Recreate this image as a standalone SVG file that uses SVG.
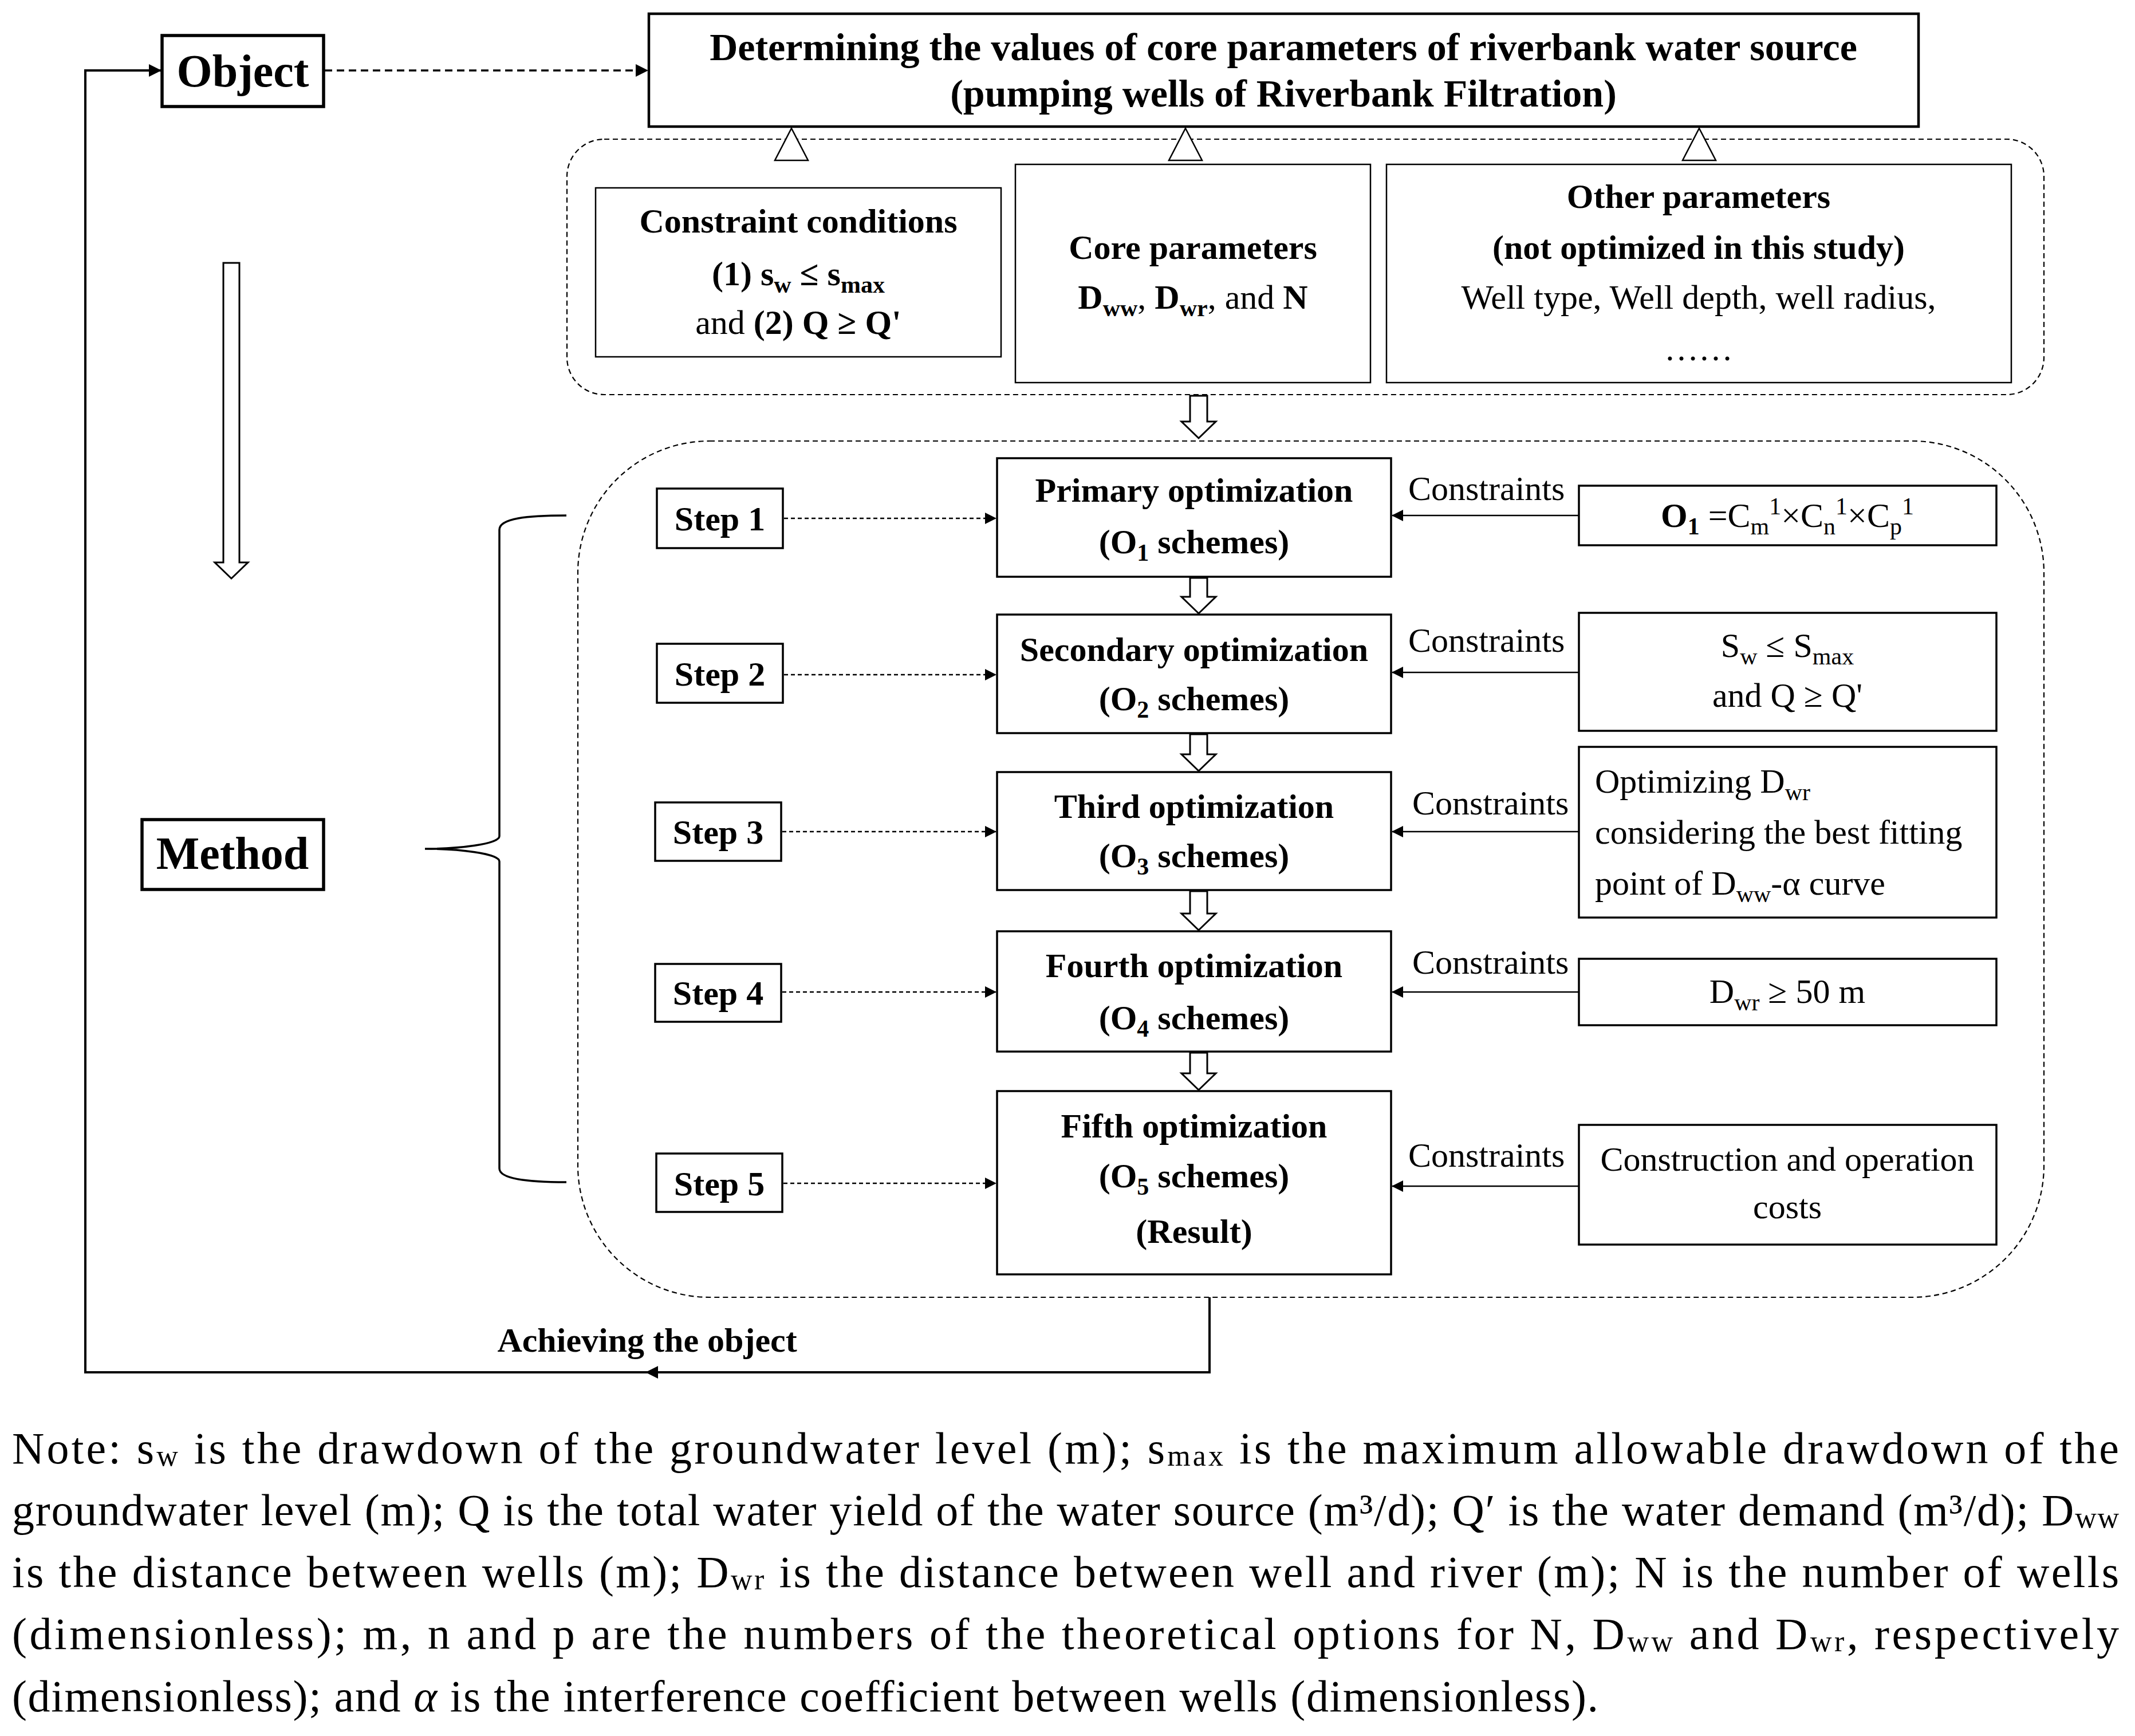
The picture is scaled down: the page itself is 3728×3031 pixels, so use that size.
<svg xmlns="http://www.w3.org/2000/svg" width="3728" height="3031" viewBox="0 0 3728 3031">
<style>
text{font-family:"Liberation Serif","Times New Roman",serif;fill:#000}
.b{font-weight:bold}
.t68{font-size:68px;font-weight:bold}
.t80{font-size:80px;font-weight:bold}
.t60{font-size:60px;font-weight:bold}
.r60{font-size:60px}
.sub{font-size:42px}
.note{font-size:78px}
.ns{font-size:52px}
.box{fill:#fff;stroke:#000;stroke-width:3.5}
.thin{fill:#fff;stroke:#000;stroke-width:2.5}
.dbox{fill:none;stroke:#000;stroke-width:2.2;stroke-dasharray:9 6}
.ln{fill:none;stroke:#000;stroke-width:2.5}
.dl{fill:none;stroke:#000;stroke-width:2.5;stroke-dasharray:7 5}
.hol{fill:#fff;stroke:#000;stroke-width:3}
</style>
<defs>
<marker id="ah" markerUnits="userSpaceOnUse" markerWidth="22" markerHeight="22" viewBox="0 0 22 22" refX="21" refY="11" orient="auto"><path d="M0,0 L22,11 L0,22 z" fill="#000"/></marker>
<marker id="as" markerUnits="userSpaceOnUse" markerWidth="20" markerHeight="20" viewBox="0 0 20 20" refX="19" refY="10" orient="auto"><path d="M0,0 L20,10 L0,20 z" fill="#000"/></marker>
</defs>
<rect width="3728" height="3031" fill="#fff"/>

<!-- containers -->
<rect id="params-container" class="dbox" x="990" y="243" width="2579" height="446" rx="65" ry="65"/>
<rect id="steps-container" class="dbox" x="1009" y="770" width="2560" height="1495" rx="230" ry="230"/>

<g id="connectors">
<!-- loop back -->
<path class="ln" style="stroke-width:4" d="M2112,2265 V2396 H149 V123 H281" marker-end="url(#ah)"/>
<path d="M1127,2396 L1149,2385 L1149,2407 z" fill="#000"/>
<!-- object to main -->
<path class="ln" style="stroke-width:3.5;stroke-dasharray:13 8" d="M567,123 H1131" marker-end="url(#ah)"/>
<!-- open triangles -->
<polygon class="thin" points="1382,224 1411,280 1353,280"/>
<polygon class="thin" points="2070,224 2099,280 2041,280"/>
<polygon class="thin" points="2967,224 2996,280 2938,280"/>
<!-- hollow arrows -->
<polygon class="hol" points="2078,691 2108,691 2108,736 2123,736 2093,765 2063,736 2078,736"/>
<polygon class="hol" points="2078,1009 2108,1009 2108,1042 2123,1042 2093,1071 2063,1042 2078,1042"/>
<polygon class="hol" points="2078,1282 2108,1282 2108,1317 2123,1317 2093,1346 2063,1317 2078,1317"/>
<polygon class="hol" points="2078,1556 2108,1556 2108,1595 2123,1595 2093,1624 2063,1595 2078,1595"/>
<polygon class="hol" points="2078,1838 2108,1838 2108,1874 2123,1874 2093,1903 2063,1874 2078,1874"/>
<polygon class="hol" points="390,459 418,459 418,982 433,982 404,1010 375,982 390,982"/>
<!-- brace -->
<path class="ln" style="stroke-width:3.5" d="M989,900 C920,900 872,905 872,925 L872,1460 C872,1474 800,1482 742,1482 C800,1482 872,1490 872,1504 L872,2040 C872,2058 920,2064 989,2064"/>
<!-- step arrows -->
<path class="dl" d="M1369,905 H1739" marker-end="url(#as)"/>
<path class="dl" d="M1369,1178 H1739" marker-end="url(#as)"/>
<path class="dl" d="M1366,1452 H1739" marker-end="url(#as)"/>
<path class="dl" d="M1366,1732 H1739" marker-end="url(#as)"/>
<path class="dl" d="M1368,2066 H1739" marker-end="url(#as)"/>
<!-- constraint arrows -->
<path class="ln" d="M2757,900 H2431" marker-end="url(#as)"/>
<path class="ln" d="M2757,1174 H2431" marker-end="url(#as)"/>
<path class="ln" d="M2757,1452 H2431" marker-end="url(#as)"/>
<path class="ln" d="M2757,1732 H2431" marker-end="url(#as)"/>
<path class="ln" d="M2757,2071 H2431" marker-end="url(#as)"/>
</g>

<g id="object">
<rect x="283" y="62" width="282" height="124" fill="#fff" stroke="#000" stroke-width="5.5"/>
<text class="t80" x="424" y="151" text-anchor="middle">Object</text>
</g>

<g id="method">
<rect x="248" y="1431" width="317" height="122" fill="#fff" stroke="#000" stroke-width="5.5"/>
<text class="t80" x="406" y="1517" text-anchor="middle">Method</text>
</g>

<g id="main-goal">
<rect x="1133" y="24" width="2217" height="197" fill="#fff" stroke="#000" stroke-width="4.5"/>
<text class="t68" x="2241" y="105" text-anchor="middle">Determining the values of core parameters of riverbank water source</text>
<text class="t68" x="2241" y="186" text-anchor="middle">(pumping wells of Riverbank Filtration)</text>
</g>

<g id="constraint-conditions">
<rect class="thin" x="1040" y="328" width="708" height="295"/>
<text class="t60" x="1394" y="406" text-anchor="middle">Constraint conditions</text>
<text class="t60" x="1394" y="498" text-anchor="middle">(1) s<tspan class="sub" dy="13">w</tspan><tspan dy="-13"> ≤ s</tspan><tspan class="sub" dy="13">max</tspan></text>
<text class="r60" x="1394" y="583" text-anchor="middle">and <tspan class="b">(2) Q ≥ Q'</tspan></text>
</g>

<g id="core-parameters">
<rect class="thin" x="1773" y="287" width="620" height="381"/>
<text class="t60" x="2083" y="452" text-anchor="middle">Core parameters</text>
<text class="r60" x="2083" y="539" text-anchor="middle"><tspan class="b">D</tspan><tspan class="sub b" dy="13">ww</tspan><tspan dy="-13">, </tspan><tspan class="b">D</tspan><tspan class="sub b" dy="13">wr</tspan><tspan dy="-13">, and </tspan><tspan class="b">N</tspan></text>
</g>

<g id="other-parameters">
<rect class="thin" x="2421" y="287" width="1091" height="381"/>
<text class="t60" x="2966" y="363" text-anchor="middle">Other parameters</text>
<text class="t60" x="2966" y="452" text-anchor="middle">(not optimized in this study)</text>
<text class="r60" x="2966" y="539" text-anchor="middle">Well type, Well depth, well radius,</text>
<text class="r60" x="2966" y="629" text-anchor="middle">……</text>
</g>

<g id="step1"><rect class="box" x="1147" y="853" width="220" height="104"/><text class="t60" x="1257" y="926" text-anchor="middle">Step 1</text></g>
<g id="step2"><rect class="box" x="1147" y="1124" width="220" height="103"/><text class="t60" x="1257" y="1197" text-anchor="middle">Step 2</text></g>
<g id="step3"><rect class="box" x="1144" y="1401" width="220" height="102"/><text class="t60" x="1254" y="1473" text-anchor="middle">Step 3</text></g>
<g id="step4"><rect class="box" x="1144" y="1683" width="220" height="101"/><text class="t60" x="1254" y="1754" text-anchor="middle">Step 4</text></g>
<g id="step5"><rect class="box" x="1146" y="2014" width="220" height="102"/><text class="t60" x="1256" y="2087" text-anchor="middle">Step 5</text></g>

<g id="opt1"><rect class="box" x="1741" y="800" width="688" height="207"/>
<text class="t60" x="2085" y="876" text-anchor="middle">Primary optimization</text>
<text class="t60" x="2085" y="966" text-anchor="middle">(O<tspan class="sub" dy="13">1</tspan><tspan dy="-13"> schemes)</tspan></text></g>
<g id="opt2"><rect class="box" x="1741" y="1073" width="688" height="207"/>
<text class="t60" x="2085" y="1154" text-anchor="middle">Secondary optimization</text>
<text class="t60" x="2085" y="1240" text-anchor="middle">(O<tspan class="sub" dy="13">2</tspan><tspan dy="-13"> schemes)</tspan></text></g>
<g id="opt3"><rect class="box" x="1741" y="1348" width="688" height="206"/>
<text class="t60" x="2085" y="1428" text-anchor="middle">Third optimization</text>
<text class="t60" x="2085" y="1514" text-anchor="middle">(O<tspan class="sub" dy="13">3</tspan><tspan dy="-13"> schemes)</tspan></text></g>
<g id="opt4"><rect class="box" x="1741" y="1626" width="688" height="210"/>
<text class="t60" x="2085" y="1706" text-anchor="middle">Fourth optimization</text>
<text class="t60" x="2085" y="1797" text-anchor="middle">(O<tspan class="sub" dy="13">4</tspan><tspan dy="-13"> schemes)</tspan></text></g>
<g id="opt5"><rect class="box" x="1741" y="1905" width="688" height="320"/>
<text class="t60" x="2085" y="1986" text-anchor="middle">Fifth optimization</text>
<text class="t60" x="2085" y="2073" text-anchor="middle">(O<tspan class="sub" dy="13">5</tspan><tspan dy="-13"> schemes)</tspan></text>
<text class="t60" x="2085" y="2170" text-anchor="middle">(Result)</text></g>

<g id="labels">
<text class="r60" x="2459" y="873">Constraints</text>
<text class="r60" x="2459" y="1138">Constraints</text>
<text class="r60" x="2466" y="1422">Constraints</text>
<text class="r60" x="2466" y="1700">Constraints</text>
<text class="r60" x="2459" y="2037">Constraints</text>
<text class="t60" x="1130" y="2360" text-anchor="middle">Achieving the object</text>
</g>

<g id="c1"><rect class="box" x="2757" y="848" width="729" height="104"/>
<text class="r60" x="3121" y="920" text-anchor="middle"><tspan class="b">O</tspan><tspan class="sub b" dy="13">1</tspan><tspan dy="-13"> =C</tspan><tspan class="sub" dy="13">m</tspan><tspan class="sub" dy="-35">1</tspan><tspan dy="22">×C</tspan><tspan class="sub" dy="13">n</tspan><tspan class="sub" dy="-35">1</tspan><tspan dy="22">×C</tspan><tspan class="sub" dy="13">p</tspan><tspan class="sub" dy="-35">1</tspan></text></g>
<g id="c2"><rect class="box" x="2757" y="1070" width="729" height="206"/>
<text class="r60" x="3121" y="1147" text-anchor="middle">S<tspan class="sub" dy="13">w</tspan><tspan dy="-13"> ≤ S</tspan><tspan class="sub" dy="13">max</tspan></text>
<text class="r60" x="3121" y="1234" text-anchor="middle">and Q ≥ Q'</text></g>
<g id="c3"><rect class="box" x="2757" y="1304" width="729" height="298"/>
<text class="r60" x="2785" y="1384">Optimizing D<tspan class="sub" dy="13">wr</tspan></text>
<text class="r60" x="2785" y="1473">considering the best fitting</text>
<text class="r60" x="2785" y="1562">point of D<tspan class="sub" dy="13">ww</tspan><tspan dy="-13">-α curve</tspan></text></g>
<g id="c4"><rect class="box" x="2757" y="1674" width="729" height="116"/>
<text class="r60" x="3121" y="1751" text-anchor="middle">D<tspan class="sub" dy="13">wr</tspan><tspan dy="-13"> ≥ 50 m</tspan></text></g>
<g id="c5"><rect class="box" x="2757" y="1964" width="729" height="209"/>
<text class="r60" x="3121" y="2044" text-anchor="middle">Construction and operation</text>
<text class="r60" x="3121" y="2127" text-anchor="middle">costs</text></g>

<g id="note">
<text class="note" x="21" y="2555" textLength="3679" lengthAdjust="spacing">Note: s<tspan class="ns" dy="4">w</tspan><tspan dy="-4"> is the drawdown of the groundwater level (m); s</tspan><tspan class="ns" dy="4">max</tspan><tspan dy="-4"> is the maximum allowable drawdown of the</tspan></text>
<text class="note" x="21" y="2663" textLength="3679" lengthAdjust="spacing">groundwater level (m); Q is the total water yield of the water source (m³/d); Q′ is the water demand (m³/d); D<tspan class="ns" dy="4">ww</tspan></text>
<text class="note" x="21" y="2771" textLength="3679" lengthAdjust="spacing">is the distance between wells (m); D<tspan class="ns" dy="4">wr</tspan><tspan dy="-4"> is the distance between well and river (m); N is the number of wells</tspan></text>
<text class="note" x="21" y="2879" textLength="3679" lengthAdjust="spacing">(dimensionless); m, n and p are the numbers of the theoretical options for N, D<tspan class="ns" dy="4">ww</tspan><tspan dy="-4"> and D</tspan><tspan class="ns" dy="4">wr</tspan><tspan dy="-4">, respectively</tspan></text>
<text class="note" x="21" y="2988" textLength="2770" lengthAdjust="spacing">(dimensionless); and <tspan font-style="italic">α</tspan> is the interference coefficient between wells (dimensionless).</text>
</g>
</svg>
